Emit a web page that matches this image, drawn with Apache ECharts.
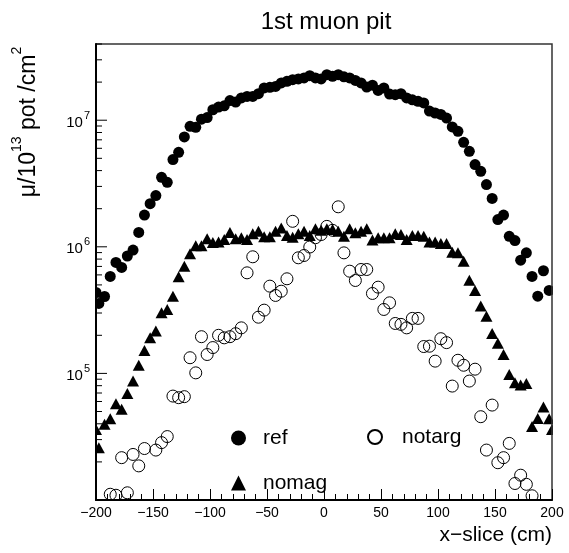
<!DOCTYPE html>
<html>
<head>
<meta charset="utf-8">
<script src="https://cdn.jsdelivr.net/npm/echarts@6/dist/echarts.min.js"></script>
<style>
  html, body { margin: 0; padding: 0; background: #fff; }
  #chart { width: 569px; height: 553px; }
</style>
</head>
<body>
<div id="chart"></div>
<script>
// x-slice bin centres (cm)
const xSlices = [
  -197.5, -192.5, -187.5, -182.5, -177.5, -172.5, -167.5, -162.5, -157.5, -152.5,
  -147.5, -142.5, -137.5, -132.5, -127.5, -122.5, -117.5, -112.5, -107.5, -102.5,
  -97.5, -92.5, -87.5, -82.5, -77.5, -72.5, -67.5, -62.5, -57.5, -52.5,
  -47.5, -42.5, -37.5, -32.5, -27.5, -22.5, -17.5, -12.5, -7.5, -2.5,
  2.5, 7.5, 12.5, 17.5, 22.5, 27.5, 32.5, 37.5, 42.5, 47.5,
  52.5, 57.5, 62.5, 67.5, 72.5, 77.5, 82.5, 87.5, 92.5, 97.5,
  102.5, 107.5, 112.5, 117.5, 122.5, 127.5, 132.5, 137.5, 142.5, 147.5,
  152.5, 157.5, 162.5, 167.5, 172.5, 177.5, 182.5, 187.5, 192.5, 197.5
];

// muon flux per 10^13 pot per cm^2
const refFlux = [
  3.57e5, 4.05e5, 5.83e5, 7.52e5, 6.87e5, 8.46e5, 9.43e5, 1.30e6, 1.78e6, 2.19e6,
  2.54e6, 3.54e6, 3.23e6, 4.89e6, 5.58e6, 7.38e6, 8.95e6, 8.79e6, 1.02e7, 1.05e7,
  1.21e7, 1.27e7, 1.30e7, 1.43e7, 1.39e7, 1.50e7, 1.54e7, 1.54e7, 1.62e7, 1.80e7,
  1.82e7, 1.85e7, 1.97e7, 2.03e7, 2.09e7, 2.12e7, 2.16e7, 2.25e7, 2.16e7, 2.12e7,
  2.29e7, 2.22e7, 2.29e7, 2.20e7, 2.16e7, 2.06e7, 1.97e7, 1.83e7, 1.89e7, 1.72e7,
  1.80e7, 1.61e7, 1.59e7, 1.62e7, 1.50e7, 1.45e7, 1.41e7, 1.37e7, 1.18e7, 1.14e7,
  1.11e7, 1.04e7, 8.85e6, 8.17e6, 6.69e6, 5.68e6, 4.46e6, 3.95e6, 3.10e6, 2.41e6,
  1.64e6, 1.78e6, 1.21e6, 1.12e6, 7.84e5, 8.96e5, 5.83e5, 4.07e5, 6.47e5, 4.52e5
];

const nomagFlux = [
  2.59e4, 3.96e4, 4.39e4, 5.77e4, 5.20e4, 6.95e4, 8.70e4, 1.16e5, 1.52e5, 1.91e5,
  2.16e5, 3.01e5, 3.20e5, 4.07e5, 5.80e5, 7.03e5, 8.81e5, 1.02e6, 1.02e6, 1.16e6,
  1.08e6, 1.09e6, 1.14e6, 1.30e6, 1.16e6, 1.18e6, 1.14e6, 1.27e6, 1.33e6, 1.20e6,
  1.20e6, 1.33e6, 1.41e6, 1.23e6, 1.19e6, 1.27e6, 1.33e6, 1.23e6, 1.39e6, 1.35e6,
  1.39e6, 1.37e6, 1.33e6, 1.21e6, 1.39e6, 1.29e6, 1.33e6, 1.39e6, 1.13e6, 1.18e6,
  1.18e6, 1.18e6, 1.27e6, 1.25e6, 1.14e6, 1.23e6, 1.23e6, 1.21e6, 1.09e6, 1.09e6,
  1.06e6, 1.06e6, 9.07e5, 8.96e5, 7.70e5, 5.45e5, 4.52e5, 3.40e5, 2.83e5, 2.07e5,
  1.73e5, 1.41e5, 9.82e4, 8.45e4, 8.09e4, 8.34e4, 3.80e4, 4.41e4, 5.42e4, 4.39e4
];

const notargFlux = [
  null, null, 1.11e4, 1.09e4, 2.16e4, 1.14e4, 2.29e4, 1.86e4, 2.55e4, null,
  2.48e4, 2.84e4, 3.17e4, 6.62e4, 6.43e4, 6.55e4, 1.33e5, 1.01e5, 1.95e5, 1.41e5,
  1.60e5, 2.00e5, 1.91e5, 1.95e5, 2.06e5, 2.29e5, 6.23e5, 8.34e5, 2.78e5, 3.16e5,
  4.89e5, 4.13e5, 4.46e5, 5.59e5, 1.59e6, 8.19e5, 8.54e5, 9.96e5, 1.18e6, 1.25e6,
  1.45e6, 1.35e6, 2.07e6, 8.96e5, 6.42e5, 5.42e5, 6.62e5, 6.62e5, 4.28e5, 4.80e5,
  3.20e5, 3.61e5, 2.48e5, 2.44e5, 2.29e5, 2.72e5, 2.72e5, 1.63e5, 1.64e5, 1.25e5,
  1.88e5, 1.75e5, 7.94e4, 1.27e5, 1.16e5, 8.70e4, 1.08e5, 4.55e4, 2.48e4, 5.62e4,
  1.97e4, 2.16e4, 2.80e4, 1.35e4, 1.57e4, 1.33e4, 1.08e4, null, null, null
];

// entries sitting on the window edges
const refEdge = [[-200, 4.36e5]];
const nomagEdge = [[-200, 3.61e4], [200, 3.61e4]];

const xTickLabels = [-200, -150, -100, -50, 0, 50, 100, 150, 200];

function pairs(values, extra) {
  const out = [];
  values.forEach((v, i) => { if (v != null) out.push([xSlices[i], v]); });
  return extra ? extra.concat(out) : out;
}

// log-axis tick marks (decades and 2..9 subdivisions)
const yTicks = [];
for (let e = 4; e <= 7; e++) {
  for (let m = 1; m <= 9; m++) {
    const v = m * Math.pow(10, e);
    if (v <= 4e7) yTicks.push([-200, v]);
  }
}

const W = 569, H = 553;
const G = { left: 96, right: 17, top: 44, bottom: 53 };
const FONT = "'Liberation Sans', Arial, sans-serif";
const chart = echarts.init(document.getElementById('chart'), null, { renderer: 'canvas' });

// white masks outside the frame so markers on the frame edge are cut like a clipped pad
const maskStyle = { fill: '#fff' };
const masks = [
  { type: 'rect', z: 5, silent: true, shape: { x: 0, y: 0, width: G.left - 1, height: H }, style: maskStyle },
  { type: 'rect', z: 5, silent: true, shape: { x: 0, y: H - G.bottom + 1, width: W, height: G.bottom }, style: maskStyle },
  { type: 'rect', z: 5, silent: true, shape: { x: W - G.right + 1, y: 0, width: G.right, height: H }, style: maskStyle },
  { type: 'rect', z: 5, silent: true, shape: { x: 0, y: 0, width: W, height: G.top - 1 }, style: maskStyle }
];

chart.setOption({
  animation: false,
  backgroundColor: '#fff',
  grid: {
    left: G.left, right: G.right, top: G.top, bottom: G.bottom,
    containLabel: false, outerBoundsMode: 'none', z: 8,
    show: true, borderColor: '#333', borderWidth: 1.5, backgroundColor: 'transparent'
  },
  xAxis: {
    type: 'value', min: -200, max: 200, interval: 50, z: 10,
    axisLine: { onZero: false, lineStyle: { color: '#000', width: 2 } },
    axisTick: { inside: true, length: 11, lineStyle: { color: '#000', width: 1 } },
    minorTick: { show: true, splitNumber: 5, length: 6, lineStyle: { color: '#000', width: 1 } },
    splitLine: { show: false },
    axisLabel: {
      color: '#000', fontFamily: FONT, fontSize: 14, margin: 6,
      formatter: v => (xTickLabels.indexOf(v) < 0 ? '' : (v < 0 ? '\u2212' + Math.abs(v) : String(v)))
    }
  },
  yAxis: {
    type: 'log', logBase: 10, min: 1e4, max: 4e7, z: 10,
    axisLine: { onZero: false, lineStyle: { color: '#000', width: 2 } },
    axisTick: { show: false },
    splitLine: { show: false },
    axisLabel: {
      color: '#000', margin: 6,
      formatter: v => {
        const e = Math.round(Math.log10(v));
        if (e <= 4 || Math.abs(v / Math.pow(10, e) - 1) > 1e-6) return '';
        return '{b|10}{s|' + e + '}';
      },
      rich: {
        b: { fontFamily: FONT, fontSize: 15, color: '#000', lineHeight: 20, verticalAlign: 'bottom', padding: [6, 0, 0, 0] },
        s: { fontFamily: FONT, fontSize: 11, color: '#000', lineHeight: 20, verticalAlign: 'top', padding: [0, 0, 6, 1] }
      }
    }
  },
  legend: [
    {
      data: ['ref', 'nomag'], orient: 'vertical', left: 226, top: 422,
      itemWidth: 15, itemHeight: 15, itemGap: 23, selectedMode: false,
      textStyle: { fontFamily: FONT, fontSize: 21, color: '#000', lineHeight: 22, padding: [0, 0, 0, 12] }
    },
    {
      data: ['notarg'], orient: 'vertical', left: 362, top: 421,
      itemWidth: 14, itemHeight: 14, selectedMode: false,
      textStyle: { fontFamily: FONT, fontSize: 21, color: '#000', lineHeight: 22, padding: [0, 0, 0, 15] }
    }
  ],
  graphic: masks.concat([
    {
      type: 'text', x: 326, y: 22, z: 12, silent: true,
      style: { text: '1st muon pit', font: "24px " + FONT, fill: '#000', align: 'center', verticalAlign: 'middle' }
    },
    {
      type: 'text', x: 552, y: 535, z: 12, silent: true,
      style: { text: 'x\u2212slice (cm)', font: "21px " + FONT, fill: '#000', align: 'right', verticalAlign: 'middle' }
    },
    {
      type: 'text', x: 25, y: 122, z: 12, rotation: Math.PI / 2, silent: true,
      style: {
        text: '{a|\u03bc/10}{s|13}{a| pot /cm}{s|2}',
        align: 'center', verticalAlign: 'middle',
        rich: {
          a: { fontFamily: FONT, fontSize: 23, fill: '#000', lineHeight: 30, verticalAlign: 'bottom' },
          s: { fontFamily: FONT, fontSize: 14, fill: '#000', lineHeight: 30, verticalAlign: 'top' }
        }
      }
    }
  ]),
  series: [
    {
      name: 'ref', type: 'scatter', symbol: 'circle', symbolSize: 11,
      itemStyle: { color: '#000', opacity: 1 },
      data: pairs(refFlux, refEdge)
    },
    {
      name: 'notarg', type: 'scatter', symbol: 'circle', symbolSize: 12,
      itemStyle: { color: 'rgba(0,0,0,0)', borderColor: '#000', borderWidth: 1, opacity: 1 },
      data: pairs(notargFlux)
    },
    {
      name: 'nomag', type: 'scatter', symbol: 'triangle', symbolSize: [12, 11],
      itemStyle: { color: '#000', opacity: 1 },
      data: pairs(nomagFlux, nomagEdge)
    },
    {
      name: 'yTicks', type: 'custom', silent: true, clip: false, z: 9,
      data: yTicks,
      renderItem: (params, api) => {
        const v = api.value(1);
        const p = api.coord([api.value(0), v]);
        const lg = Math.log10(v);
        const major = Math.abs(lg - Math.round(lg)) < 1e-9;
        return {
          type: 'line',
          shape: { x1: p[0], y1: p[1], x2: p[0] + (major ? 11 : 6), y2: p[1] },
          style: { stroke: '#000', lineWidth: 1 }
        };
      }
    }
  ]
});
</script>
</body>
</html>
